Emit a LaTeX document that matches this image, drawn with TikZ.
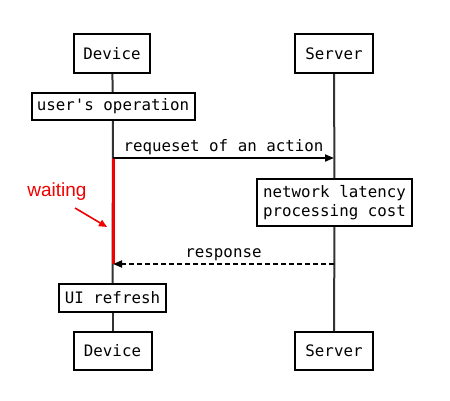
\documentclass[tikz,border=0pt]{standalone}
\usepackage{fontspec}
\newfontfamily\monof{DejaVu Sans Mono}
\newfontfamily\sansf{Liberation Sans}
\usetikzlibrary{arrows.meta}
\definecolor{lifecol}{HTML}{333333}
\definecolor{waitred}{HTML}{F00000}
\begin{document}
\begin{tikzpicture}[x=1pt,y=-1pt,
  box/.style={draw=black,line width=2pt,fill=white,font=\monof\fontsize{15.8}{19}\selectfont,inner sep=0pt,align=center},
  life/.style={draw=lifecol,line width=2pt},
  msg/.style={draw=black,line width=1.8pt,-{Triangle[length=9pt,width=7pt]}},
  lbl/.style={font=\monof\fontsize{15.8}{19}\selectfont,inner sep=0pt}]
\useasboundingbox (0,0) rectangle (450,400);
% boxes
\node[box,minimum width=76,minimum height=39] (devtop) at (112,53.5) {Device};
\node[box,minimum width=78,minimum height=39] (srvtop) at (334,53.5) {Server};
\node[box,minimum width=163,minimum height=27] (userop) at (113,106.5) {user's operation};
\node[box,minimum width=155,minimum height=47] (net) at (334.5,202.5) {network latency\\processing cost};
\node[box,minimum width=107,minimum height=28] (ui) at (112.5,298) {UI refresh};
\node[box,minimum width=78,minimum height=38] (devbot) at (112.5,351) {Device};
\node[box,minimum width=78,minimum height=38] (srvbot) at (334,351) {Server};
% lifelines
\draw[life] (devtop) -- (userop);
\draw[life] (userop) -- (ui);
\draw[life] (ui) -- (devbot);
\draw[life] (srvtop) -- (net);
\draw[life] (net) -- (srvbot);
% message anchors
\coordinate (reqs) at (113,158);
\coordinate (reqe) at (334,158);
\coordinate (resps) at (334,264);
\coordinate (respe) at (113,264);
% waiting bar
\draw[draw=waitred,line width=3pt] (reqs) -- (respe);
% messages
\draw[msg] (reqs) -- node[lbl,above=2pt] (reqlbl) {requeset of an action} (reqe);
\draw[msg,dashed,dash pattern=on 5pt off 3pt] (resps) -- node[lbl,above=2pt] (resplbl) {response} (respe);
% waiting note
\node[font=\sansf\fontsize{19}{22}\selectfont,text=waitred,inner sep=0pt] (wait) at (57,192) {waiting};
\coordinate (waitend) at (107,227);
\draw[draw=waitred,line width=1.6pt,-{Triangle[length=8pt,width=7pt]}] (75,208) -- (waitend);
\end{tikzpicture}
\end{document}
